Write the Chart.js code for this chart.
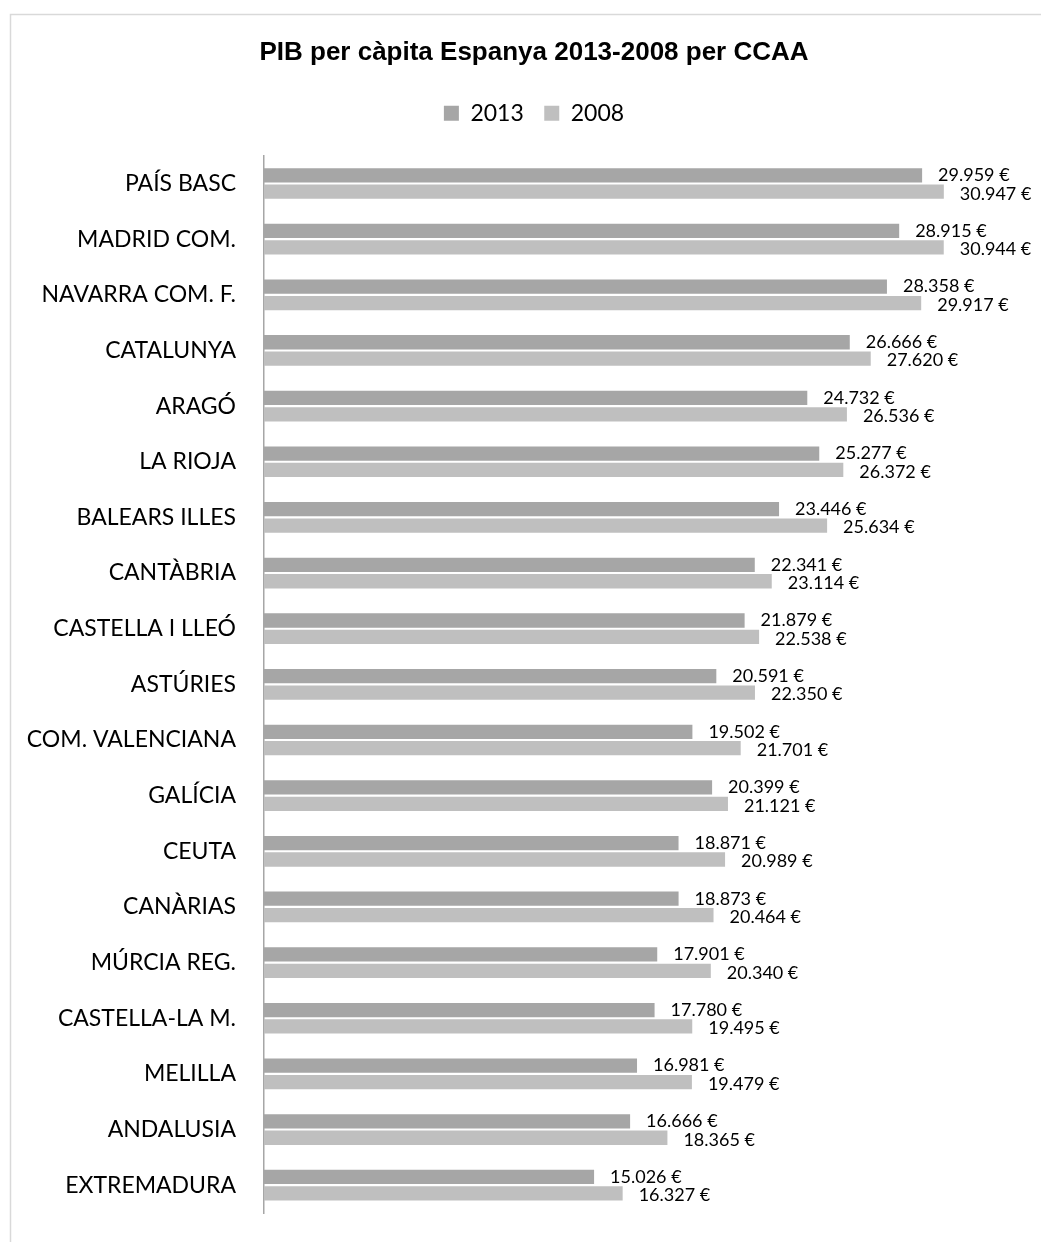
<!DOCTYPE html>
<html>
<head>
<meta charset="utf-8">
<script src="https://cdn.jsdelivr.net/npm/chart.js@4"></script>
<style>
  html, body { margin: 0; padding: 0; background: #fff; overflow: hidden; }
  #wrap { width: 1068px; height: 1242px; }
</style>
</head>
<body>
<div id="wrap"><canvas id="c" width="1068" height="1242"></canvas></div>
<script>
const chartTitle = 'PIB per càpita Espanya 2013-2008 per CCAA';
const categories = ['PAÍS BASC','MADRID COM.','NAVARRA COM. F.','CATALUNYA','ARAGÓ','LA RIOJA','BALEARS ILLES','CANTÀBRIA','CASTELLA I LLEÓ','ASTÚRIES','COM. VALENCIANA','GALÍCIA','CEUTA','CANÀRIAS','MÚRCIA REG.','CASTELLA-LA M.','MELILLA','ANDALUSIA','EXTREMADURA'];
const seriesNames = ['2013', '2008'];
const values2013 = [29959, 28915, 28358, 26666, 24732, 25277, 23446, 22341, 21879, 20591, 19502, 20399, 18871, 18873, 17901, 17780, 16981, 16666, 15026];
const values2008 = [30947, 30944, 29917, 27620, 26536, 26372, 25634, 23114, 22538, 22350, 21701, 21121, 20989, 20464, 20340, 19495, 19479, 18365, 16327];
const xMin = 0;
const xMax = 36600;

function fmtEuro(v) {
  const s = String(Math.round(v));
  return s.replace(/\B(?=(\d{3})+(?!\d))/g, '.') + ' €';
}

const frame = {
  id: 'frame',
  beforeDraw(chart) {
    const ctx = chart.ctx;
    ctx.save();
    ctx.fillStyle = '#fff';
    ctx.fillRect(0, 0, chart.width, chart.height);
    ctx.strokeStyle = '#d9d9d9';
    ctx.lineWidth = 1.5;
    ctx.beginPath();
    ctx.moveTo(10.5, chart.height + 5);
    ctx.lineTo(10.5, 14.5);
    ctx.lineTo(chart.width + 5, 14.5);
    ctx.stroke();
    ctx.restore();
  }
};

const valueLabels = {
  id: 'valueLabels',
  afterDatasetsDraw(chart) {
    const ctx = chart.ctx;
    ctx.save();
    ctx.font = '18px Lato';
    ctx.fillStyle = '#000';
    ctx.textAlign = 'left';
    ctx.textBaseline = 'middle';
    chart.data.datasets.forEach((ds, di) => {
      const meta = chart.getDatasetMeta(di);
      meta.data.forEach((bar, i) => {
        ctx.fillText(fmtEuro(ds.data[i]), bar.x + 16, bar.y + (di === 1 ? 2 : 0));
      });
    });
    ctx.restore();
  }
};

new Chart(document.getElementById('c'), {
  type: 'bar',
  data: {
    labels: categories,
    datasets: [
      { label: seriesNames[0], data: values2013, backgroundColor: '#a6a6a6', categoryPercentage: 0.59, barPercentage: 0.87 },
      { label: seriesNames[1], data: values2008, backgroundColor: '#bfbfbf', categoryPercentage: 0.59, barPercentage: 0.87 }
    ]
  },
  options: {
    indexAxis: 'y',
    responsive: false,
    animation: false,
    layout: { padding: { left: 0, right: 0, top: 0, bottom: 29 } },
    scales: {
      x: {
        display: true,
        position: 'top',
        min: xMin,
        max: xMax,
        afterFit(s) { s.height = 21; },
        ticks: { display: false },
        grid: { display: false, drawTicks: false },
        border: { display: false }
      },
      y: {
        afterFit(s) { s.width = 264; },
        grid: { display: false, drawTicks: true, tickLength: 24 },
        border: { display: true, color: '#a6a6a6', width: 1.5 },
        ticks: { padding: 4, color: '#000', font: { family: 'Lato', size: 23 } }
      }
    },
    plugins: {
      title: {
        display: true,
        text: chartTitle,
        color: '#000',
        font: { family: 'Liberation Sans', size: 26, weight: 'bold', lineHeight: 1.2 },
        padding: { top: 37, bottom: 13 }
      },
      legend: {
        display: true,
        position: 'top',
        labels: {
          color: '#000',
          font: { family: 'Lato', size: 23 },
          boxWidth: 15,
          boxHeight: 15,
          padding: 20.5
        }
      },
      tooltip: { enabled: false }
    }
  },
  plugins: [frame, valueLabels]
});
</script>
</body>
</html>
